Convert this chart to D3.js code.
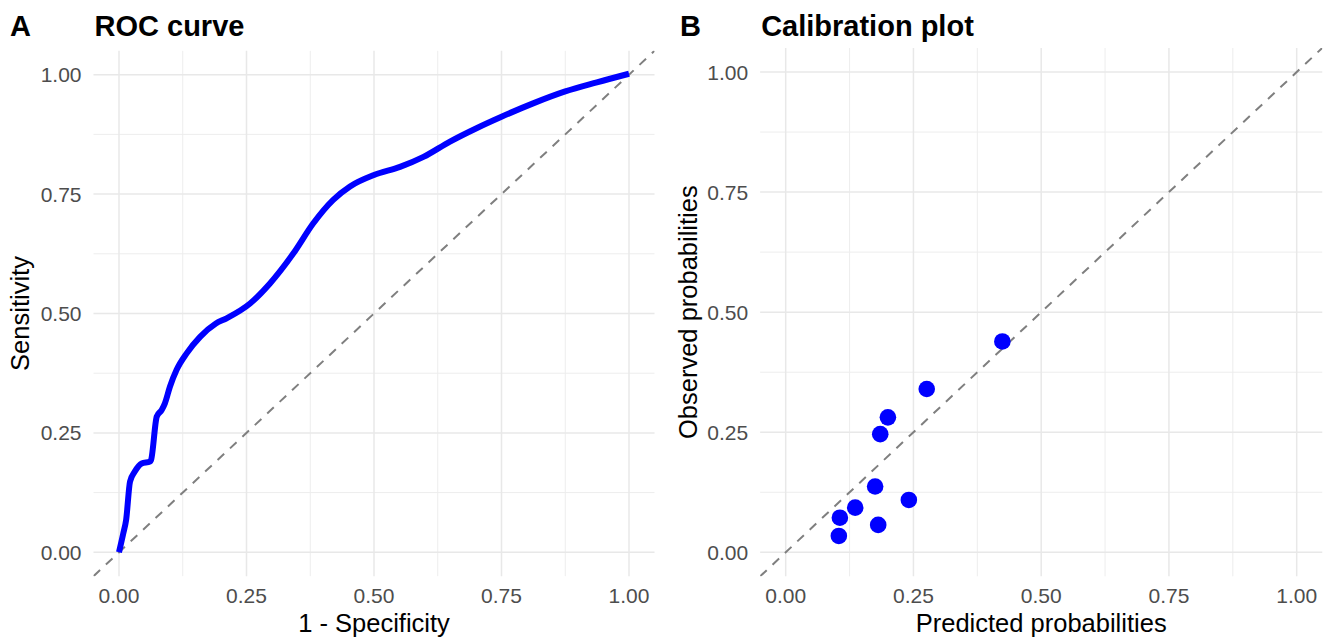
<!DOCTYPE html>
<html>
<head>
<meta charset="utf-8">
<script src="https://d3js.org/d3.v7.min.js"></script>
<style>
    body { margin: 0; background: #fff; }
    svg text { font-family: "Liberation Sans", Arial, sans-serif; }
</style>
</head>
<body>
<div id="chart"></div>
<script>
// ROC curve (1 - specificity, sensitivity)
var rocFpr = [0, 0.0085, 0.014, 0.0216, 0.031, 0.0444, 0.0608, 0.0628, 0.074, 0.0837, 0.09,
              0.1, 0.113, 0.133, 0.159, 0.19, 0.211, 0.257, 0.296, 0.342, 0.381, 0.42, 0.453,
              0.5, 0.551, 0.597, 0.649, 0.701, 0.75, 0.812, 0.875, 0.937, 1.0];
var rocTpr = [0, 0.04, 0.068, 0.148, 0.169, 0.186, 0.19, 0.193, 0.284, 0.298, 0.312,
              0.347, 0.382, 0.417, 0.451, 0.479, 0.49, 0.521, 0.563, 0.626, 0.689, 0.738, 0.766,
              0.79, 0.807, 0.828, 0.86, 0.888, 0.912, 0.94, 0.965, 0.984, 1.002];

// calibration points
var predicted = [0.424, 0.276, 0.2, 0.185, 0.175, 0.241, 0.136, 0.106, 0.181, 0.104];
var observed  = [0.439, 0.340, 0.281, 0.246, 0.137, 0.109, 0.093, 0.072, 0.057, 0.034];

var majorTicks = [0, 0.25, 0.5, 0.75, 1];
var minorTicks = [0.125, 0.375, 0.625, 0.875];

var width = 1325, height = 640;

var svg = d3.select("#chart").append("svg")
    .attr("width", width)
    .attr("height", height);

var fmt = d3.format(".2f");

function drawPanel(opt) {
    var x = d3.scaleLinear().domain([0, 1]).range(opt.xRange);
    var y = d3.scaleLinear().domain([0, 1]).range(opt.yRange);
    // ggplot default 5% expansion
    var x0 = x(-0.05), x1 = x(1.05), y0 = y(-0.05), y1 = y(1.05);

    var g = svg.append("g");

    g.append("clipPath").attr("id", opt.id + "-clip")
        .append("rect")
        .attr("x", x0).attr("y", y1)
        .attr("width", x1 - x0).attr("height", y0 - y1);

    // grid
    g.append("g").selectAll("line")
        .data(minorTicks).enter().append("line")
        .attr("x1", x0).attr("x2", x1)
        .attr("y1", d => y(d)).attr("y2", d => y(d))
        .attr("stroke", "#ededed").attr("stroke-width", 1);
    g.append("g").selectAll("line")
        .data(minorTicks).enter().append("line")
        .attr("x1", d => x(d)).attr("x2", d => x(d))
        .attr("y1", y0).attr("y2", y1)
        .attr("stroke", "#ededed").attr("stroke-width", 1);
    g.append("g").selectAll("line")
        .data(majorTicks).enter().append("line")
        .attr("x1", x0).attr("x2", x1)
        .attr("y1", d => y(d)).attr("y2", d => y(d))
        .attr("stroke", "#e8e8e8").attr("stroke-width", 1.5);
    g.append("g").selectAll("line")
        .data(majorTicks).enter().append("line")
        .attr("x1", d => x(d)).attr("x2", d => x(d))
        .attr("y1", y0).attr("y2", y1)
        .attr("stroke", "#e8e8e8").attr("stroke-width", 1.5);

    // tick labels
    g.append("g").selectAll("text")
        .data(majorTicks).enter().append("text")
        .attr("x", d => x(d)).attr("y", y0 + 27)
        .attr("text-anchor", "middle")
        .attr("font-size", 21).attr("fill", "#4d4d4d")
        .text(fmt);
    g.append("g").selectAll("text")
        .data(majorTicks).enter().append("text")
        .attr("x", x0 - 12).attr("y", d => y(d) + 7.5)
        .attr("text-anchor", "end")
        .attr("font-size", 21).attr("fill", "#4d4d4d")
        .text(fmt);

    // identity line
    g.append("line")
        .attr("clip-path", "url(#" + opt.id + "-clip)")
        .attr("x1", x(-0.05)).attr("y1", y(-0.05))
        .attr("x2", x(1.05)).attr("y2", y(1.05))
        .attr("stroke", "#7f7f7f").attr("stroke-width", 2)
        .attr("stroke-dasharray", "9,8");

    // axis titles
    g.append("text")
        .attr("x", (x0 + x1) / 2).attr("y", 632)
        .attr("text-anchor", "middle")
        .attr("font-size", 25.5).attr("fill", "#000")
        .text(opt.xTitle);
    g.append("text")
        .attr("transform", "translate(" + opt.yTitleX + "," + ((y0 + y1) / 2) + ") rotate(-90)")
        .attr("text-anchor", "middle")
        .attr("font-size", 25.5).attr("fill", "#000")
        .text(opt.yTitle);

    // tag and title
    g.append("text")
        .attr("x", opt.tagX).attr("y", 36)
        .attr("font-size", 29).attr("font-weight", "bold")
        .text(opt.tag);
    g.append("text")
        .attr("x", x0 + 1).attr("y", 36)
        .attr("font-size", 29).attr("font-weight", "bold")
        .text(opt.title);

    return {g: g, x: x, y: y};
}

// panel A: ROC curve
var a = drawPanel({
    id: "roc", xRange: [119, 629], yRange: [552.3, 74.7],
    xTitle: "1 - Specificity", yTitle: "Sensitivity", yTitleX: 29,
    tag: "A", tagX: 10, title: "ROC curve"
});

var rocData = rocFpr.map((d, i) => ({fpr: d, tpr: rocTpr[i]}));

a.g.append("path")
    .datum(rocData)
    .attr("fill", "none")
    .attr("stroke", "#0000ff")
    .attr("stroke-width", 6)
    .attr("stroke-linejoin", "round")
    .attr("d", d3.line()
        .x(d => a.x(d.fpr))
        .y(d => a.y(d.tpr))
        .curve(d3.curveMonotoneX));

// panel B: calibration plot
var b = drawPanel({
    id: "cal", xRange: [785.7, 1296.7], yRange: [552.3, 72],
    xTitle: "Predicted probabilities", yTitle: "Observed probabilities", yTitleX: 697,
    tag: "B", tagX: 680, title: "Calibration plot"
});

b.g.append("g").selectAll("circle")
    .data(predicted.map((d, i) => ({p: d, o: observed[i]})))
    .enter().append("circle")
    .attr("cx", d => b.x(d.p))
    .attr("cy", d => b.y(d.o))
    .attr("r", 8.3)
    .attr("fill", "#0000ff");
</script>
</body>
</html>
